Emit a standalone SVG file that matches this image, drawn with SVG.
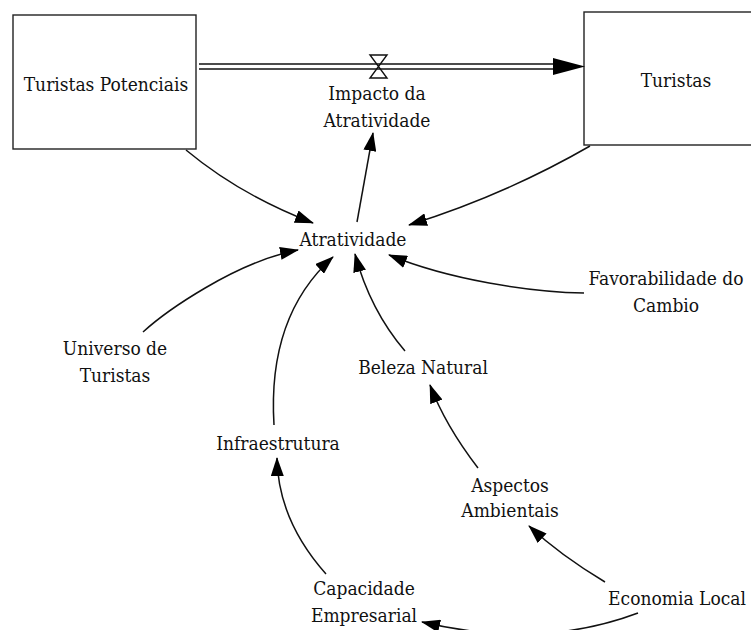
<svg xmlns="http://www.w3.org/2000/svg" width="751" height="630" viewBox="0 0 751 630">
  <style>
    .lbl { font-family: "DejaVu Serif Condensed", "DejaVu Serif", "Liberation Serif", serif; font-stretch: condensed; font-size: 19px; fill: #111; text-anchor: middle; }
    .stock { fill: #fff; stroke: #222; stroke-width: 1.4; }
    .link { fill: none; stroke: #111; stroke-width: 1.5; marker-end: url(#arrow); }
    .pipe { fill: none; stroke: #111; stroke-width: 1.5; }
  </style>
  <defs>
    <marker id="arrow" markerUnits="userSpaceOnUse" markerWidth="19" markerHeight="13" viewBox="0 0 19 13" refX="18" refY="6.5" orient="auto">
      <path d="M0,0 L19,6.5 L0,13 Z" fill="#000"/>
    </marker>
  </defs>
  <rect width="751" height="630" fill="#fff"/>

  <!-- stocks -->
  <g id="turistas-potenciais">
    <rect class="stock" x="13" y="15" width="183" height="134"/>
    <text class="lbl" x="106" y="91">Turistas Potenciais</text>
  </g>
  <g id="turistas">
    <rect class="stock" x="584" y="12" width="180" height="133"/>
    <text class="lbl" x="676" y="87">Turistas</text>
  </g>

  <!-- flow between the stocks -->
  <g id="fluxo">
    <line class="pipe" x1="199" y1="64" x2="556" y2="64"/>
    <line class="pipe" x1="199" y1="69" x2="556" y2="69"/>
    <path d="M553,58 L585,66.5 L553,75 Z" fill="#000"/>
    <path d="M370,55 H387 L370,78 H387 Z" fill="none" stroke="#111" stroke-width="1.4"/>
  </g>
  <g id="impacto-da-atratividade">
    <text class="lbl" x="377" y="100">Impacto da</text>
    <text class="lbl" x="377" y="127">Atratividade</text>
  </g>

  <!-- auxiliaries -->
  <g id="atratividade"><text class="lbl" x="353" y="246">Atratividade</text></g>
  <g id="universo-de-turistas">
    <text class="lbl" x="115" y="355">Universo de</text>
    <text class="lbl" x="115" y="382">Turistas</text>
  </g>
  <g id="infraestrutura"><text class="lbl" x="278" y="450">Infraestrutura</text></g>
  <g id="beleza-natural"><text class="lbl" x="423" y="374">Beleza Natural</text></g>
  <g id="aspectos-ambientais">
    <text class="lbl" x="510" y="492">Aspectos</text>
    <text class="lbl" x="510" y="517">Ambientais</text>
  </g>
  <g id="favorabilidade-do-cambio">
    <text class="lbl" x="666" y="285">Favorabilidade do</text>
    <text class="lbl" x="666" y="312">Cambio</text>
  </g>
  <g id="capacidade-empresarial">
    <text class="lbl" x="364" y="595">Capacidade</text>
    <text class="lbl" x="364" y="622">Empresarial</text>
  </g>
  <g id="economia-local"><text class="lbl" x="677" y="605">Economia Local</text></g>

  <!-- connectors -->
  <g id="connectors">
    <path class="link" d="M186,150 Q240,195 313,223"/>
    <path class="link" d="M590,146 Q505,195 409,225"/>
    <path class="link" d="M357,222 L373,133"/>
    <path class="link" d="M143,332 C165,312 235,262 298,250"/>
    <path class="link" d="M274,425 C270,360 285,300 333,257"/>
    <path class="link" d="M405,351 Q370,310 355,254"/>
    <path class="link" d="M584,293 C530,292 450,280 389,255"/>
    <path class="link" d="M478,468 Q445,425 430,385"/>
    <path class="link" d="M326,574 Q278,520 277,458"/>
    <path class="link" d="M605,582 Q560,555 529,526"/>
    <path class="link" d="M638,613 Q540,650 422,622"/>
  </g>
</svg>
